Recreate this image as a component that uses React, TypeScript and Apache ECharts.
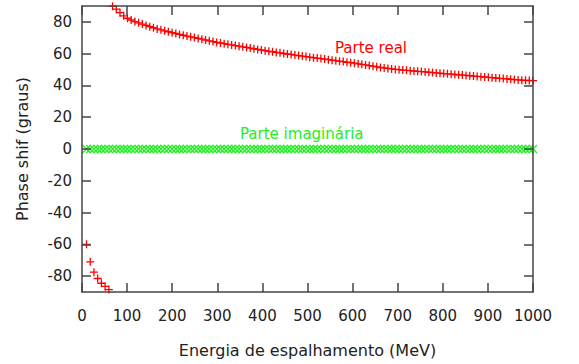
import React, { useEffect, useRef } from "react";
import * as echarts from "echarts";

// Energies (MeV) at which the phase shifts are shown
const energies = [
  10, 18.25, 26.5, 34.75, 43, 51.25, 59.5, 67.75, 76, 84.25,
  92.5, 100.75, 109, 117.25, 125.5, 133.75, 142, 150.25, 158.5, 166.75,
  175, 183.25, 191.5, 199.75, 208, 216.25, 224.5, 232.75, 241, 249.25,
  257.5, 265.75, 274, 282.25, 290.5, 298.75, 307, 315.25, 323.5, 331.75,
  340, 348.25, 356.5, 364.75, 373, 381.25, 389.5, 397.75, 406, 414.25,
  422.5, 430.75, 439, 447.25, 455.5, 463.75, 472, 480.25, 488.5, 496.75,
  505, 513.25, 521.5, 529.75, 538, 546.25, 554.5, 562.75, 571, 579.25,
  587.5, 595.75, 604, 612.25, 620.5, 628.75, 637, 645.25, 653.5, 661.75,
  670, 678.25, 686.5, 694.75, 703, 711.25, 719.5, 727.75, 736, 744.25,
  752.5, 760.75, 769, 777.25, 785.5, 793.75, 802, 810.25, 818.5, 826.75,
  835, 843.25, 851.5, 859.75, 868, 876.25, 884.5, 892.75, 901, 909.25,
  917.5, 925.75, 934, 942.25, 950.5, 958.75, 967, 975.25, 983.5, 991.75,
  1000,
];

// Parte real (graus)
const realPart = [
  -60, -71, -77.5, -81.5, -84.5, -86.5, -88.5, 89.8, 88, 85.8,
  83.8, 82.3, 81.2, 80.2, 79.4, 78.6, 77.8, 77, 76.3, 75.6,
  75, 74.4, 73.8, 73.2, 72.7, 72.1, 71.6, 71.1, 70.6, 70.1,
  69.6, 69.1, 68.6, 68.1, 67.6, 67.1, 66.7, 66.3, 65.9, 65.5,
  65.1, 64.7, 64.3, 63.9, 63.5, 63.1, 62.7, 62.3, 61.9, 61.5,
  61.2, 60.8, 60.5, 60.1, 59.8, 59.5, 59.1, 58.8, 58.5, 58.2,
  57.8, 57.5, 57.2, 56.9, 56.6, 56.2, 55.9, 55.6, 55.3, 55,
  54.6, 54.3, 54, 53.6, 53.3, 52.9, 52.5, 52.1, 51.7, 51.3,
  51, 50.7, 50.4, 50.1, 49.9, 49.7, 49.5, 49.3, 49.1, 48.9,
  48.7, 48.5, 48.3, 48.1, 47.9, 47.7, 47.5, 47.3, 47.1, 46.9,
  46.7, 46.5, 46.3, 46.1, 45.9, 45.7, 45.5, 45.3, 45.1, 44.9,
  44.7, 44.5, 44.3, 44.1, 43.9, 43.7, 43.5, 43.3, 43.2, 43.1,
  43,
];

// Parte imaginária (graus)
const imagPart = [
  0, 0, 0, 0, 0, 0, 0, 0, 0, 0,
  0, 0, 0, 0, 0, 0, 0, 0, 0, 0,
  0, 0, 0, 0, 0, 0, 0, 0, 0, 0,
  0, 0, 0, 0, 0, 0, 0, 0, 0, 0,
  0, 0, 0, 0, 0, 0, 0, 0, 0, 0,
  0, 0, 0, 0, 0, 0, 0, 0, 0, 0,
  0, 0, 0, 0, 0, 0, 0, 0, 0, 0,
  0, 0, 0, 0, 0, 0, 0, 0, 0, 0,
  0, 0, 0, 0, 0, 0, 0, 0, 0, 0,
  0, 0, 0, 0, 0, 0, 0, 0, 0, 0,
  0, 0, 0, 0, 0, 0, 0, 0, 0, 0,
  0, 0, 0, 0, 0, 0, 0, 0, 0, 0,
  0,
];

const yTickValues = [-80, -60, -40, -20, 0, 20, 40, 60, 80];

const FONT = "DejaVu Sans";
const AXIS_COLOR = "#454545";
const TEXT_COLOR = "#222";
const RED = "#ff0000";
const GREEN = "#22ee22";

const plusSymbol = "path://M5,0L5,10M0,5L10,5";
const crossSymbol = "path://M0,0L10,10M10,0L0,10";

export default function App() {
  const ref = useRef<HTMLDivElement>(null);

  useEffect(() => {
    if (!ref.current) return;
    const chart = echarts.init(ref.current, null, { renderer: "svg" });

    const axisLine = { show: true, onZero: false, lineStyle: { color: AXIS_COLOR, width: 1.5 } };
    const axisTick = { show: true, inside: true, length: 9, lineStyle: { color: AXIS_COLOR, width: 1.5 } };
    const labelStyle = { fontFamily: FONT, fontSize: 15, color: TEXT_COLOR };
    const plain = (v: number) => String(v);

    chart.setOption({
      animation: false,
      backgroundColor: "#ffffff",
      grid: { left: 82, right: 46, top: 6, bottom: 72, containLabel: false },
      xAxis: [
        {
          type: "value",
          min: 0,
          max: 1000,
          interval: 100,
          position: "bottom",
          z: 5,
          axisLine,
          axisTick,
          splitLine: { show: false },
          axisLabel: { ...labelStyle, margin: 16, formatter: plain },
          name: "Energia de espalhamento (MeV)",
          nameLocation: "middle",
          nameGap: 50,
          nameTextStyle: { fontFamily: FONT, fontSize: 16, color: TEXT_COLOR },
        },
        {
          type: "value",
          min: 0,
          max: 1000,
          interval: 100,
          position: "top",
          z: 5,
          axisLine,
          axisTick,
          splitLine: { show: false },
          axisLabel: { show: false },
        },
      ],
      yAxis: [
        {
          type: "value",
          min: -90,
          max: 90,
          position: "left",
          z: 5,
          axisLine,
          axisTick: { ...axisTick, customValues: yTickValues },
          splitLine: { show: false },
          axisLabel: { ...labelStyle, margin: 10, customValues: yTickValues, formatter: plain },
          name: "Phase shif (graus)",
          nameLocation: "middle",
          nameGap: 52,
          nameTextStyle: { fontFamily: FONT, fontSize: 16, color: TEXT_COLOR },
        },
        {
          type: "value",
          min: -90,
          max: 90,
          position: "right",
          z: 5,
          axisLine,
          axisTick: { ...axisTick, customValues: yTickValues },
          splitLine: { show: false },
          axisLabel: { show: false },
        },
      ],
      series: [
        {
          name: "Parte imaginária",
          type: "scatter",
          xAxisIndex: 0,
          yAxisIndex: 0,
          clip: false,
          symbol: crossSymbol,
          symbolSize: 8,
          itemStyle: { color: GREEN, borderColor: GREEN, borderWidth: 1.3, opacity: 1 },
          data: energies.map((e, i) => [e, imagPart[i]]),
        },
        {
          name: "Parte real",
          type: "scatter",
          xAxisIndex: 0,
          yAxisIndex: 0,
          clip: false,
          symbol: plusSymbol,
          symbolSize: 8,
          itemStyle: { color: RED, borderColor: RED, borderWidth: 1.3, opacity: 1 },
          data: energies.map((e, i) => [e, realPart[i]]),
        },
      ],
      graphic: [
        {
          type: "text",
          left: 335,
          top: 40,
          z: 10,
          style: { text: "Parte real", fill: RED, font: `15px "${FONT}"` },
        },
        {
          type: "text",
          left: 240,
          top: 126,
          z: 10,
          style: { text: "Parte imaginária", fill: GREEN, font: `15px "${FONT}"` },
        },
      ],
    });

    return () => chart.dispose();
  }, []);

  return (
    <div
      ref={ref}
      style={{ position: "fixed", left: 0, top: 0, width: 579, height: 364, background: "#fff" }}
    />
  );
}
